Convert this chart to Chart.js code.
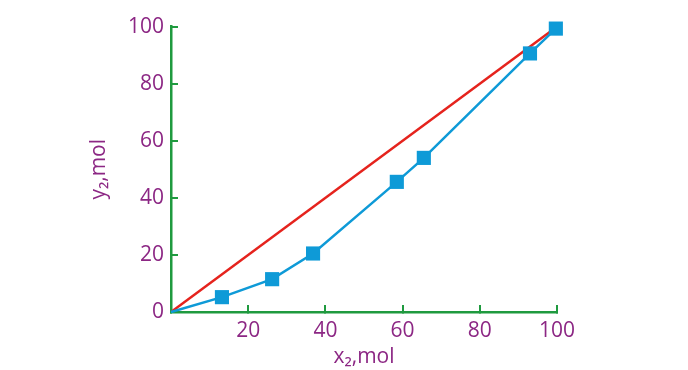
<!DOCTYPE html>
<html>
<head>
<meta charset="utf-8">
<script src="https://cdn.jsdelivr.net/npm/chart.js@4"></script>
<style>
  html, body { margin: 0; padding: 0; background: #fff; }
  #wrap { width: 688px; height: 370px; }
</style>
</head>
<body>
<div id="wrap"><canvas id="myChart"></canvas></div>
<script>
// liquid / vapour composition
const x2 = [0, 13.2, 26.2, 36.8, 58.5, 65.5, 93.0, 99.7];
const y2 = [0, 5.2, 11.5, 20.5, 45.6, 54.0, 90.6, 99.3];
const diagX = [0, 99];
const diagY = [0, 99];
const tickValues = [0, 20, 40, 60, 80, 100];

const purple = '#8c2784';
const green = '#1f9a3f';

const toPoints = (xs, ys) => xs.map((x, i) => ({ x: x, y: ys[i] }));

const axisStyle = {
  type: 'linear',
  min: 0,
  max: 100,
  border: { color: green, width: 2.5 },
  grid: { drawOnChartArea: false, color: green, lineWidth: 2, tickLength: -7 },
};

const ctx = document.getElementById('myChart');

const myChart = new Chart(ctx, {
  type: 'scatter',
  data: {
    datasets: [{
      label: 'y = x',
      data: toPoints(diagX, diagY),
      showLine: true,
      borderColor: '#e5231d',
      borderWidth: 2.5,
      pointRadius: 0,
      order: 2
    }, {
      label: 'y2',
      data: toPoints(x2, y2),
      showLine: true,
      clip: false,
      borderColor: '#0e9ad7',
      backgroundColor: '#0e9ad7',
      borderWidth: 2.5,
      pointStyle: 'rect',
      pointRadius: x2.map(v => v === 0 ? 0 : 10),
      pointBorderWidth: 0,
      order: 1
    }]
  },
  options: {
    responsive: true,
    maintainAspectRatio: false,
    animation: false,
    layout: { padding: { left: 86, right: 131, top: 25, bottom: 0 } },
    plugins: {
      legend: { display: false },
      tooltip: { enabled: false }
    },
    scales: {
      x: {
        ...axisStyle,
        afterBuildTicks: s => { s.ticks = tickValues.map(v => ({ value: v })); },
        afterFit: s => { s.height = 58; },
        ticks: {
          color: purple,
          padding: 13,
          font: { family: 'Open Sans', size: 21 },
          callback: v => v === 0 ? '' : v
        },
        title: {
          display: true,
          text: 'x\u2082,mol',
          color: purple,
          padding: { top: -8, bottom: 0 },
          font: { family: 'Open Sans', size: 21 }
        }
      },
      y: {
        ...axisStyle,
        afterBuildTicks: s => { s.ticks = tickValues.map(v => ({ value: v })); },
        afterFit: s => { s.width = 85; },
        ticks: {
          color: purple,
          padding: 14,
          font: { family: 'Open Sans', size: 21 }
        },
        title: {
          display: true,
          text: 'y\u2082,mol',
          color: purple,
          padding: { top: 0, bottom: 0 },
          font: { family: 'Open Sans', size: 21 }
        }
      }
    }
  }
});
</script>
</body>
</html>
